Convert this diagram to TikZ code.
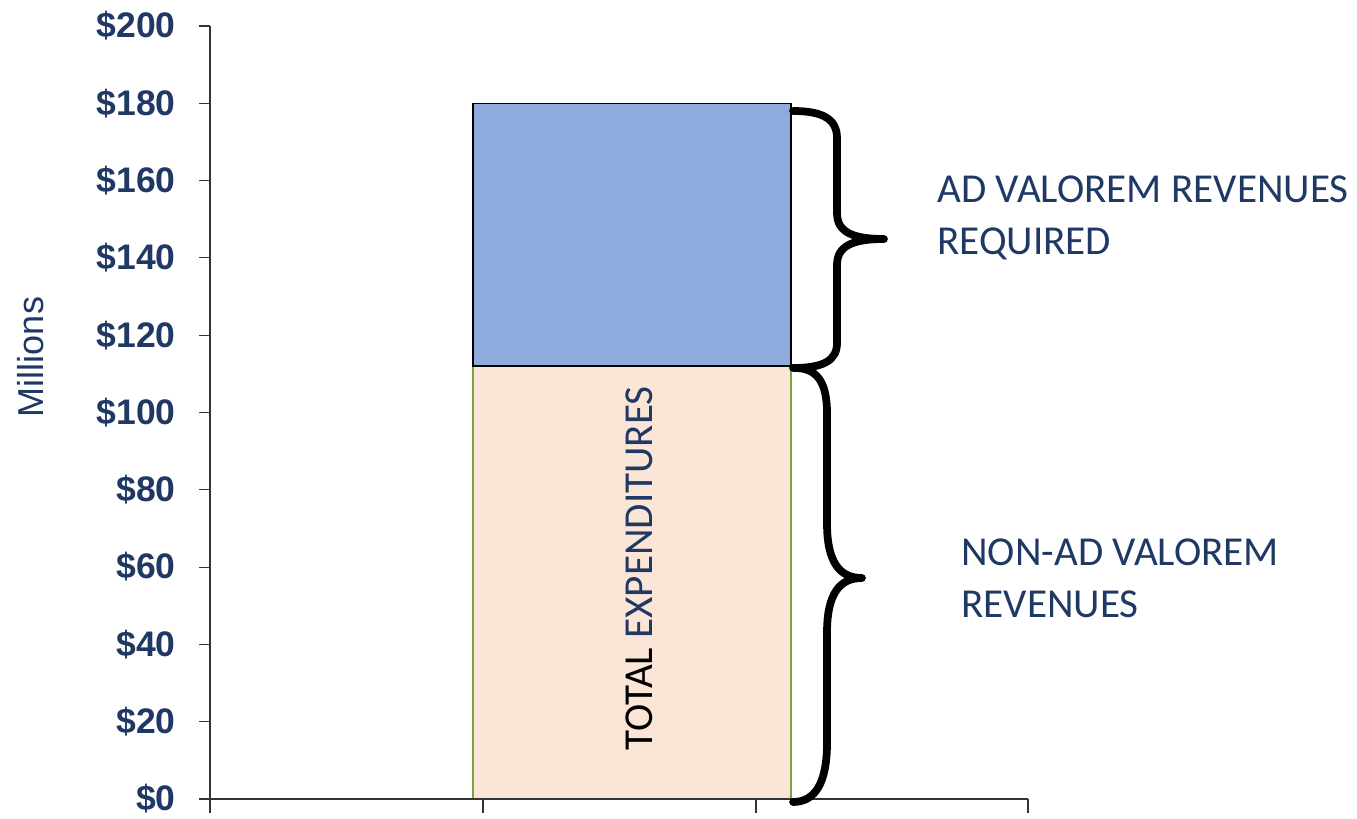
\documentclass[tikz,border=0pt]{standalone}
\usepackage{fontspec}
\newfontfamily\arialfont{Liberation Sans}
\newfontfamily\calibrifont{Carlito}
\definecolor{navy}{HTML}{1F3864}
\definecolor{barblue}{HTML}{8FAADC}
\definecolor{barpeach}{HTML}{FBE5D6}
\definecolor{bargreen}{HTML}{76A33A}
\tikzset{
  ticklabel/.style={font=\arialfont\fontsize{20.2}{24}\selectfont\bfseries,text=navy,anchor=east,inner sep=0pt},
  axisline/.style={black!80,line width=0.6pt},
  bracket/.style={black,line width=4.4pt,line cap=round,line join=round},
  revlabel/.style={font=\calibrifont\fontsize{23.4}{30.1}\selectfont,text=navy,align=left,anchor=north west,inner sep=0pt}
}

\begin{document}
\begin{tikzpicture}
\useasboundingbox (0,0) rectangle (27.14,16.36);

% bar
\draw[fill=barpeach,draw=bargreen,line width=1pt] (9.46,0.38) rectangle (15.82,9.04);
\draw[fill=barblue,draw=black,line width=0.8pt] (9.46,9.04) rectangle (15.82,14.294);

% axes
\draw[axisline] (4.2,0.38) -- (4.2,15.84);
\draw[axisline] (3.98,0.38) -- (20.56,0.38);
\draw[axisline] (3.98,1.926) -- (4.2,1.926);
\draw[axisline] (3.98,3.472) -- (4.2,3.472);
\draw[axisline] (3.98,5.018) -- (4.2,5.018);
\draw[axisline] (3.98,6.564) -- (4.2,6.564);
\draw[axisline] (3.98,8.11) -- (4.2,8.11);
\draw[axisline] (3.98,9.656) -- (4.2,9.656);
\draw[axisline] (3.98,11.202) -- (4.2,11.202);
\draw[axisline] (3.98,12.748) -- (4.2,12.748);
\draw[axisline] (3.98,14.294) -- (4.2,14.294);
\draw[axisline] (3.98,15.84) -- (4.2,15.84);
\draw[axisline] (4.2,0.38) -- (4.2,0.1);
\draw[axisline] (9.66,0.38) -- (9.66,0.1);
\draw[axisline] (15.12,0.38) -- (15.12,0.1);
\draw[axisline] (20.56,0.38) -- (20.56,0.1);

\node[ticklabel] (t0) at (3.52,0.38) {\$0};
\node[ticklabel] (t20) at (3.52,1.926) {\$20};
\node[ticklabel] (t40) at (3.52,3.472) {\$40};
\node[ticklabel] (t60) at (3.52,5.018) {\$60};
\node[ticklabel] (t80) at (3.52,6.564) {\$80};
\node[ticklabel] (t100) at (3.52,8.11) {\$100};
\node[ticklabel] (t120) at (3.52,9.656) {\$120};
\node[ticklabel] (t140) at (3.52,11.202) {\$140};
\node[ticklabel] (t160) at (3.52,12.748) {\$160};
\node[ticklabel] (t180) at (3.52,14.294) {\$180};
\node[ticklabel] (t200) at (3.52,15.84) {\$200};

\node[font=\arialfont\fontsize{20.5}{24}\selectfont,text=navy,rotate=90,anchor=base,inner sep=0pt] (ylab) at (0.86,9.22) {Millions};

\node[font=\calibrifont\fontsize{23.4}{28}\selectfont,rotate=90,anchor=base,inner sep=0pt] (total) at (13.04,4.99) {TOTAL \textcolor{navy}{EXPENDITURES}};

% braces
\draw[bracket] (15.86,14.14) .. controls (16.45,14.14) and (16.74,13.98) .. (16.74,13.6)
  -- (16.74,12.1) .. controls (16.74,11.72) and (17.05,11.58) .. (17.68,11.58)
  .. controls (17.05,11.58) and (16.74,11.44) .. (16.74,11.06)
  -- (16.74,9.5) .. controls (16.74,9.14) and (16.45,9.0) .. (15.86,9.0);
\draw[bracket] (15.9,9.0) .. controls (16.35,9.0) and (16.54,8.7) .. (16.54,8.1)
  -- (16.54,5.9) .. controls (16.54,5.1) and (16.8,4.8) .. (17.24,4.8)
  .. controls (16.8,4.8) and (16.54,4.5) .. (16.54,3.7)
  -- (16.54,1.5) .. controls (16.54,0.7) and (16.3,0.32) .. (15.86,0.32);

\node[revlabel] (adval) at (18.74,12.86) {AD VALOREM REVENUES\\REQUIRED};
\node[revlabel] (nonadval) at (19.22,5.6) {NON-AD VALOREM\\REVENUES};

\end{tikzpicture}
\end{document}
